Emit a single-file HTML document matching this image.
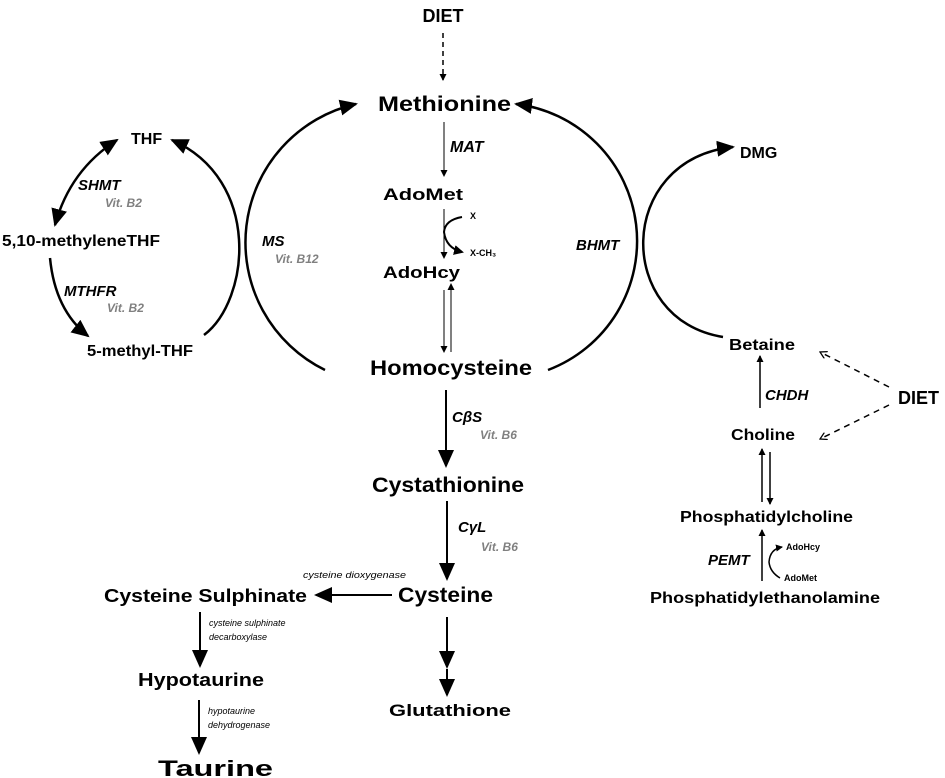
<!DOCTYPE html>
<html><head><meta charset="utf-8"><style>
html,body{margin:0;padding:0;background:#fff;}
svg{display:block;}
text{font-family:"Liberation Sans",sans-serif;font-weight:bold;fill:#000;}
.i{font-style:italic;}
.g{fill:#808080;font-style:italic;font-size:12px;}
.s{font-weight:normal;font-style:italic;font-size:9px;}
</style></head><body>
<svg width="945" height="778" viewBox="0 0 945 778" xmlns="http://www.w3.org/2000/svg">
<defs>
<marker id="big" markerWidth="10" markerHeight="10" refX="8" refY="5" orient="auto" markerUnits="userSpaceOnUse"><path d="M0,0 L10,5 L0,10 z"/></marker>
<marker id="bg" markerWidth="18" markerHeight="16" refX="16" refY="8" orient="auto" markerUnits="userSpaceOnUse"><path d="M0,0 L18,8 L0,16 z"/></marker>
<marker id="sm" markerWidth="7" markerHeight="7" refX="6" refY="3.5" orient="auto" markerUnits="userSpaceOnUse"><path d="M0,0 L7,3.5 L0,7 z"/></marker>
<marker id="op" markerWidth="8" markerHeight="8" refX="7" refY="4" orient="auto" markerUnits="userSpaceOnUse"><path d="M0,0 L7,4 L0,8" fill="none" stroke="#000" stroke-width="1.3"/></marker>
<marker id="bgs" markerWidth="18" markerHeight="16" refX="16" refY="8" orient="auto-start-reverse" markerUnits="userSpaceOnUse"><path d="M0,0 L18,8 L0,16 z"/></marker>
</defs>
<g fill="none" stroke="#000">
<line x1="443" y1="33" x2="443" y2="80" stroke-width="1.5" stroke-dasharray="5,4" marker-end="url(#sm)"/>
<path d="M325,370 A142,142 0 0 1 356,104" stroke-width="2.5" marker-end="url(#bg)"/>
<path d="M548,370 A138,138 0 0 0 516,104" stroke-width="2.5" marker-end="url(#bg)"/>
<path d="M204,335 C250,300 262,180 172,140" stroke-width="2.5" marker-end="url(#bg)"/>
<path d="M117,140 Q70,170 55,225" stroke-width="2.5" marker-start="url(#bgs)" marker-end="url(#bg)"/>
<path d="M50,258 Q55,310 88,336" stroke-width="2.5" marker-end="url(#bg)"/>
<path d="M723,337 C615,320 615,160 733,147" stroke-width="2.5" marker-end="url(#bg)"/>
<line x1="444" y1="122" x2="444" y2="176" stroke-width="1" marker-end="url(#sm)"/>
<line x1="444" y1="209" x2="444" y2="258" stroke-width="1" marker-end="url(#sm)"/>
<path d="M462,217 Q445,220 444,232 Q446,248 462,252" stroke-width="2" marker-end="url(#big)"/>
<line x1="444" y1="290" x2="444" y2="352" stroke-width="1" marker-end="url(#sm)"/>
<line x1="451" y1="352" x2="451" y2="284" stroke-width="1" marker-end="url(#sm)"/>
<line x1="446" y1="390" x2="446" y2="466" stroke-width="2" marker-end="url(#bg)"/>
<line x1="447" y1="501" x2="447" y2="579" stroke-width="2" marker-end="url(#bg)"/>
<line x1="392" y1="595" x2="316" y2="595" stroke-width="2" marker-end="url(#bg)"/>
<line x1="447" y1="617" x2="447" y2="667" stroke-width="2" marker-end="url(#bg)"/>
<line x1="447" y1="669" x2="447" y2="695" stroke-width="2" marker-end="url(#bg)"/>
<line x1="200" y1="612" x2="200" y2="666" stroke-width="2" marker-end="url(#bg)"/>
<line x1="199" y1="700" x2="199" y2="753" stroke-width="2" marker-end="url(#bg)"/>
<line x1="760" y1="408" x2="760" y2="356" stroke-width="1.5" marker-end="url(#sm)"/>
<line x1="889" y1="387" x2="820" y2="352" stroke-width="1.5" stroke-dasharray="6,5" marker-end="url(#op)"/>
<line x1="889" y1="405" x2="820" y2="439" stroke-width="1.5" stroke-dasharray="6,5" marker-end="url(#op)"/>
<line x1="762" y1="502" x2="762" y2="449" stroke-width="1.5" marker-end="url(#sm)"/>
<line x1="770" y1="452" x2="770" y2="504" stroke-width="1.5" marker-end="url(#sm)"/>
<line x1="762" y1="581" x2="762" y2="530" stroke-width="1.5" marker-end="url(#sm)"/>
<path d="M780,578 Q770,572 769,562 Q770,549 782,547" stroke-width="1.5" marker-end="url(#sm)"/>
</g>
<text x="443" y="22" font-size="18" text-anchor="middle">DIET</text>
<text x="378" y="111" font-size="21" textLength="133" lengthAdjust="spacingAndGlyphs">Methionine</text>
<text x="450" y="152" font-size="16" class="i">MAT</text>
<text x="383" y="200" font-size="17" textLength="80" lengthAdjust="spacingAndGlyphs">AdoMet</text>
<text x="470" y="219" font-size="9" font-weight="normal">X</text>
<text x="470" y="256" font-size="9" font-weight="normal">X-CH₃</text>
<text x="383" y="278" font-size="17" textLength="77" lengthAdjust="spacingAndGlyphs">AdoHcy</text>
<text x="370" y="375" font-size="21" textLength="162" lengthAdjust="spacingAndGlyphs">Homocysteine</text>
<text x="452" y="422" font-size="15" class="i">CβS</text>
<text x="480" y="439" class="g">Vit. B6</text>
<text x="372" y="492" font-size="21" textLength="152" lengthAdjust="spacingAndGlyphs">Cystathionine</text>
<text x="458" y="532" font-size="15" class="i">CγL</text>
<text x="481" y="551" class="g">Vit. B6</text>
<text x="398" y="602" font-size="21" textLength="95" lengthAdjust="spacingAndGlyphs">Cysteine</text>
<text x="303" y="578" class="s" textLength="103" lengthAdjust="spacingAndGlyphs">cysteine dioxygenase</text>
<text x="104" y="602" font-size="18" textLength="203" lengthAdjust="spacingAndGlyphs">Cysteine Sulphinate</text>
<text x="209" y="626" class="s">cysteine sulphinate</text>
<text x="209" y="640" class="s">decarboxylase</text>
<text x="138" y="686" font-size="18" textLength="126" lengthAdjust="spacingAndGlyphs">Hypotaurine</text>
<text x="208" y="714" class="s">hypotaurine</text>
<text x="208" y="728" class="s">dehydrogenase</text>
<text x="158" y="776" font-size="22" textLength="115" lengthAdjust="spacingAndGlyphs">Taurine</text>
<text x="389" y="716" font-size="17" textLength="122" lengthAdjust="spacingAndGlyphs">Glutathione</text>
<text x="131" y="144" font-size="16">THF</text>
<text x="2" y="246" font-size="16" textLength="158" lengthAdjust="spacingAndGlyphs">5,10-methyleneTHF</text>
<text x="87" y="356" font-size="16" textLength="106" lengthAdjust="spacingAndGlyphs">5-methyl-THF</text>
<text x="78" y="190" font-size="15" class="i">SHMT</text>
<text x="105" y="207" class="g">Vit. B2</text>
<text x="64" y="296" font-size="15" class="i">MTHFR</text>
<text x="107" y="312" class="g">Vit. B2</text>
<text x="262" y="246" font-size="15" class="i">MS</text>
<text x="275" y="263" class="g">Vit. B12</text>
<text x="576" y="250" font-size="15" class="i">BHMT</text>
<text x="740" y="158" font-size="16">DMG</text>
<text x="729" y="350" font-size="16" textLength="66" lengthAdjust="spacingAndGlyphs">Betaine</text>
<text x="765" y="400" font-size="15" class="i">CHDH</text>
<text x="731" y="440" font-size="16" textLength="64" lengthAdjust="spacingAndGlyphs">Choline</text>
<text x="898" y="404" font-size="18">DIET</text>
<text x="680" y="522" font-size="16" textLength="173" lengthAdjust="spacingAndGlyphs">Phosphatidylcholine</text>
<text x="708" y="565" font-size="15" class="i">PEMT</text>
<text x="786" y="550" font-size="9" font-weight="normal">AdoHcy</text>
<text x="784" y="581" font-size="9" font-weight="normal">AdoMet</text>
<text x="650" y="603" font-size="16" textLength="230" lengthAdjust="spacingAndGlyphs">Phosphatidylethanolamine</text>
</svg>
</body></html>
